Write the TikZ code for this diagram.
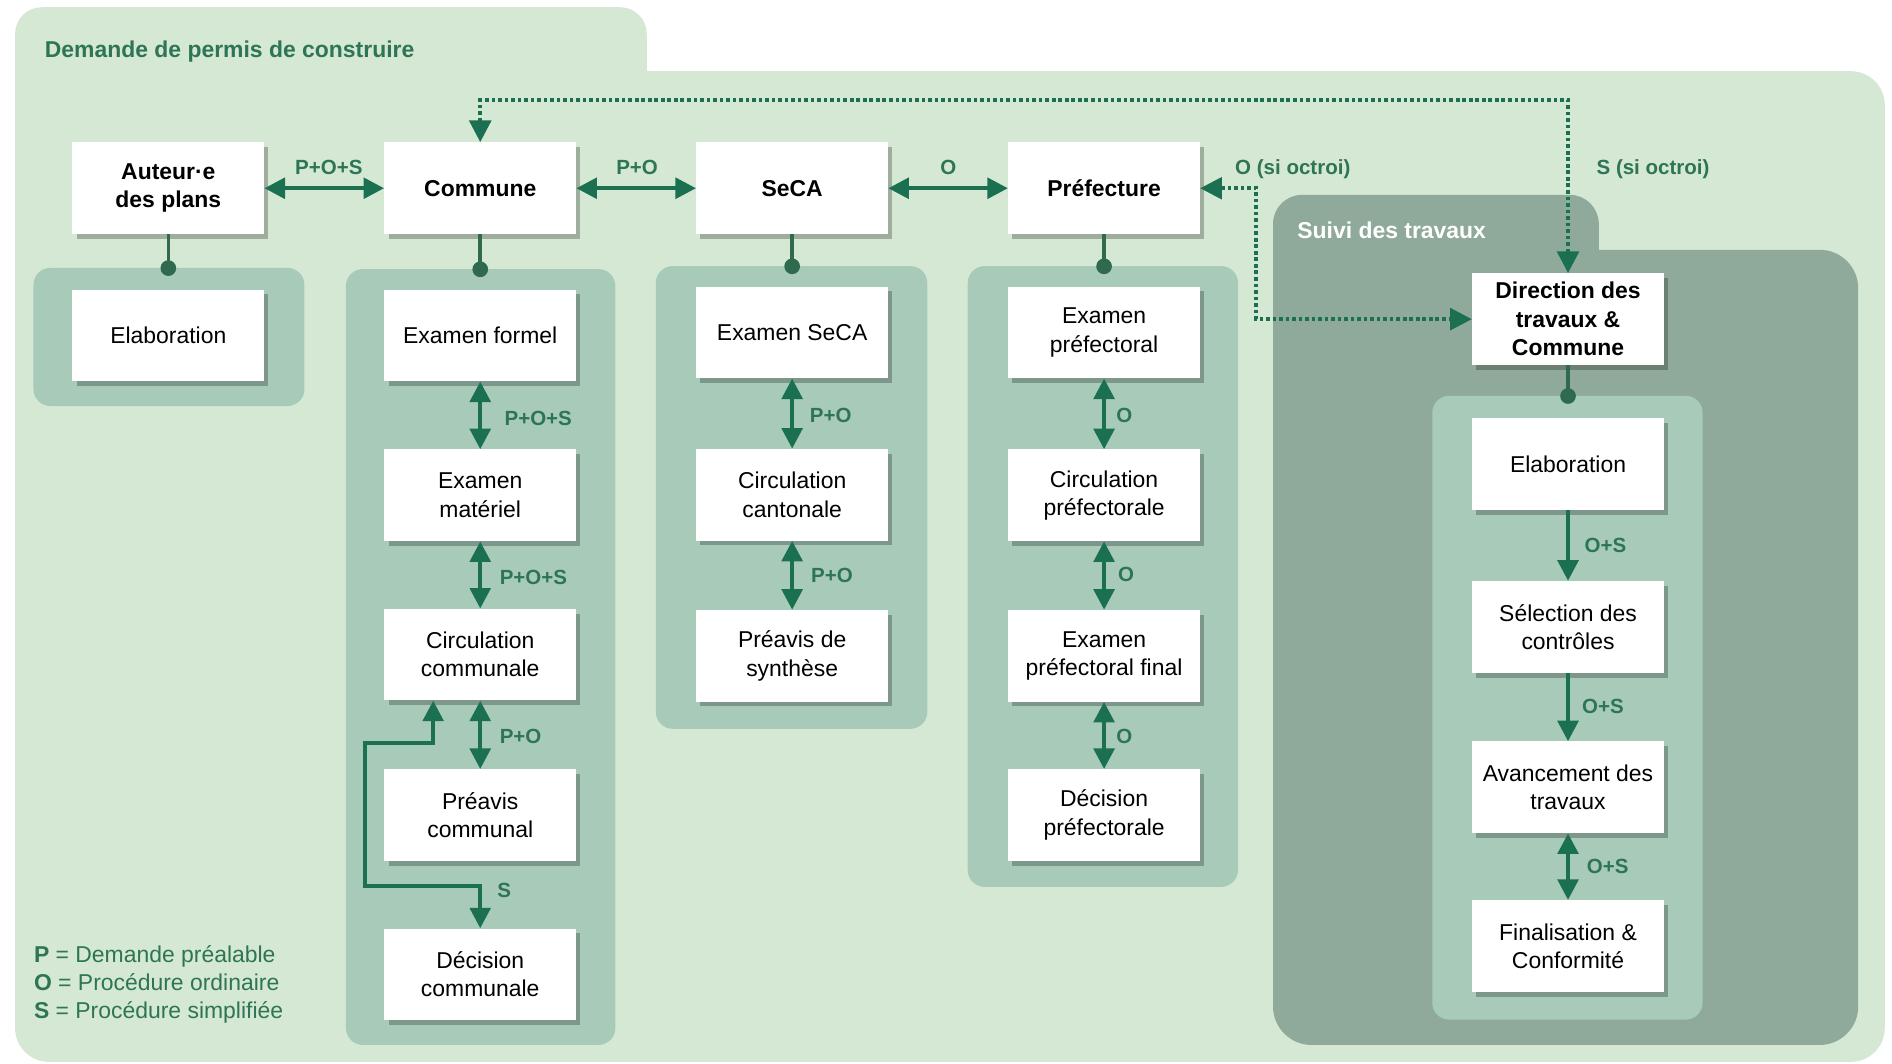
\documentclass[tikz,border=0pt]{standalone}
\usepackage{fontspec}
\setmainfont{Liberation Sans}
\usetikzlibrary{arrows.meta,shadows}

\definecolor{outerfill}{HTML}{D5E8D4}
\definecolor{colfill}{HTML}{A8CBB9}
\definecolor{suivifill}{HTML}{8FAA9A}
\definecolor{arrowgreen}{HTML}{1A7050}
\definecolor{textgreen}{HTML}{2D7555}
\definecolor{dotgreen}{HTML}{2F6A4F}

\newcommand\boxfont{\fontsize{19}{23.5}\selectfont}
\newcommand\tagfont{\fontsize{17}{20}\selectfont\bfseries}

\begin{document}
\begin{tikzpicture}[x=1pt,y=-1pt,
  card/.style={fill=white, minimum width=159pt, minimum height=76pt, inner sep=0pt,
    align=center, font=\boxfont, text=black,
    drop shadow={shadow xshift=3.5pt, shadow yshift=-4pt, opacity=0.25, fill=black}},
  head/.style={card, font=\boxfont\bfseries},
  tag/.style={text=textgreen, font=\tagfont, inner sep=0pt},
  legendline/.style={text=textgreen, font=\boxfont, inner sep=0pt, anchor=base west},
  flow/.style={draw=arrowgreen, line width=3.4pt},
  twoway/.style={flow, {Triangle[length=17pt,width=17pt]}-{Triangle[length=17pt,width=17pt]}},
  oneway/.style={flow, -{Triangle[length=17pt,width=17pt]}},
  dotlink/.style={draw=arrowgreen, line width=3pt, dash pattern=on 3pt off 2.4pt,
    {Triangle[length=18pt,width=18pt]}-{Triangle[length=18pt,width=18pt]}},
  stem/.style={draw=dotgreen, line width=3pt},
]
\useasboundingbox (0,0) rectangle (1568,881);

% ---- background panels ----
\fill[outerfill, rounded corners=22pt] (12.5,6) rectangle (536,300);
\fill[outerfill, rounded corners=28pt] (12.5,59) rectangle (1562,880);

\fill[suivifill, rounded corners=24pt] (1055,161.5) rectangle (1325,400);
\fill[suivifill, rounded corners=32pt] (1055,207) rectangle (1540,866);

\fill[colfill, rounded corners=14pt] (27.7,222) rectangle (252.3,336.5);
\fill[colfill, rounded corners=14pt] (286.7,223) rectangle (510,866);
\fill[colfill, rounded corners=14pt] (543.5,220.5) rectangle (768.5,604);
\fill[colfill, rounded corners=14pt] (802,220.5) rectangle (1026,735);
\fill[colfill, rounded corners=14pt] (1187,328) rectangle (1411,845);

% ---- titles ----
\node[text=textgreen, font=\fontsize{19}{23}\selectfont\bfseries, inner sep=0pt, anchor=base west]
  (title) at (37,47.5) {Demande de permis de construire};
\node[text=white, font=\fontsize{19}{23}\selectfont\bfseries, inner sep=0pt, anchor=base west]
  (suivititle) at (1075,198) {Suivi des travaux};

% ---- actors ----
\node[head] (auteur)  at (139.5,156) {Auteur·e\\des plans};
\node[head] (commune) at (398,156)   {Commune};
\node[head] (seca)    at (656.5,156) {SeCA};
\node[head] (pref)    at (915,156)   {Préfecture};
\node[head] (dir)     at (1299.5,264.5) {Direction des\\travaux \&\\Commune};

% ---- steps ----
\node[card] (elab1) at (139.5,278) {Elaboration};

\node[card] (formel)   at (398,278)   {Examen formel};
\node[card] (materiel) at (398,410.5) {Examen\\matériel};
\node[card] (circcom)  at (398,542.5) {Circulation\\communale};
\node[card] (preacom)  at (398,675.5) {Préavis\\communal};
\node[card] (deccom)   at (398,807.5) {Décision\\communale};

\node[card] (exseca)   at (656.5,275.5) {Examen SeCA};
\node[card] (circcant) at (656.5,410)   {Circulation\\cantonale};
\node[card] (synth)    at (656.5,543.5) {Préavis de\\synthèse};

\node[card] (expref)   at (915,275.5) {Examen\\préfectoral};
\node[card] (circpref) at (915,410.5) {Circulation\\préfectorale};
\node[card] (exfinal)  at (915,543.5) {Examen\\préfectoral final};
\node[card] (decpref)  at (915,675.5) {Décision\\préfectorale};

\node[card] (elab2)  at (1299.5,384.5) {Elaboration};
\node[card] (select) at (1299.5,519.5) {Sélection des\\contrôles};
\node[card] (avanc)  at (1299.5,652.5) {Avancement des\\travaux};
\node[card] (final)  at (1299.5,784)   {Finalisation \&\\Conformité};

% ---- stems with dots ----
\draw[stem] (auteur.south)  -- ++(0,28)   coordinate (d1);
\draw[stem] (commune.south) -- ++(0,29)   coordinate (d2);
\draw[stem] (seca.south)    -- ++(0,26.5) coordinate (d3);
\draw[stem] (pref.south)    -- ++(0,26.5) coordinate (d4);
\draw[stem] (dir.south)     -- ++(0,25.5) coordinate (d5);
\foreach \d in {d1,d2,d3,d4,d5} \fill[dotgreen] (\d) circle (6.5pt);

% ---- links between actors ----
\draw[twoway] (auteur.east) -- (commune.west);
\draw[twoway] (commune.east) -- (seca.west);
\draw[twoway] (seca.east) -- (pref.west);
\node[tag, anchor=base] (t1) at (272.5,144.5) {P+O+S};
\node[tag, anchor=base] (t2) at (528,144.5) {P+O};
\node[tag, anchor=base] (t3) at (786,144.5) {O};

% ---- dotted links after approval ----
\coordinate (topline) at (398,83);
\draw[dotlink] (dir.north) |- (topline) -- (commune.north);
\coordinate (bend) at (1041,156);
\draw[dotlink] (pref.east) -- (bend) |- (dir.west);
\node[tag, anchor=base west] (t4) at (1023.5,145) {O (si octroi)};
\node[tag, anchor=base west] (t5) at (1323,145) {S (si octroi)};

% ---- commune column ----
\draw[twoway] (formel.south) -- (materiel.north);
\draw[twoway] (materiel.south) -- (circcom.north);
\draw[twoway] (circcom.south) -- (preacom.north);
\coordinate (l1) at (359,616);
\coordinate (l2) at (302.5,616);
\coordinate (l3) at (302.5,734);
\coordinate (l4) at (398,734);
\draw[twoway] (circcom.south -| l1) -- (l1) -- (l2) -- (l3) -- (l4) -- (deccom.north);
\node[tag, anchor=base west] (t6) at (418,353) {P+O+S};
\node[tag, anchor=base west] (t7) at (414,484) {P+O+S};
\node[tag, anchor=base west] (t8) at (414,616) {P+O};
\node[tag, anchor=base west] (t9) at (412,744) {S};

% ---- SeCA column ----
\draw[twoway] (exseca.south) -- (circcant.north);
\draw[twoway] (circcant.south) -- (synth.north);
\node[tag, anchor=base west] (t10) at (671,350) {P+O};
\node[tag, anchor=base west] (t11) at (672,482.5) {P+O};

% ---- prefecture column ----
\draw[twoway] (expref.south) -- (circpref.north);
\draw[twoway] (circpref.south) -- (exfinal.north);
\draw[twoway] (exfinal.south) -- (decpref.north);
\node[tag, anchor=base west] (t12) at (925,350) {O};
\node[tag, anchor=base west] (t13) at (926.5,482) {O};
\node[tag, anchor=base west] (t14) at (925,616) {O};

% ---- works follow-up column ----
\draw[oneway] (elab2.south) -- (select.north);
\draw[oneway] (select.south) -- (avanc.north);
\draw[twoway] (avanc.south) -- (final.north);
\node[tag, anchor=base west] (t15) at (1313,458) {O+S};
\node[tag, anchor=base west] (t16) at (1311,591) {O+S};
\node[tag, anchor=base west] (t17) at (1315,724) {O+S};

% ---- legend ----
\node[legendline] (lg1) at (28,798) {\textbf{P} = Demande préalable};
\node[legendline] (lg2) at (28,821) {\textbf{O} = Procédure ordinaire};
\node[legendline] (lg3) at (28,844) {\textbf{S} = Procédure simplifiée};
\end{tikzpicture}
\end{document}
